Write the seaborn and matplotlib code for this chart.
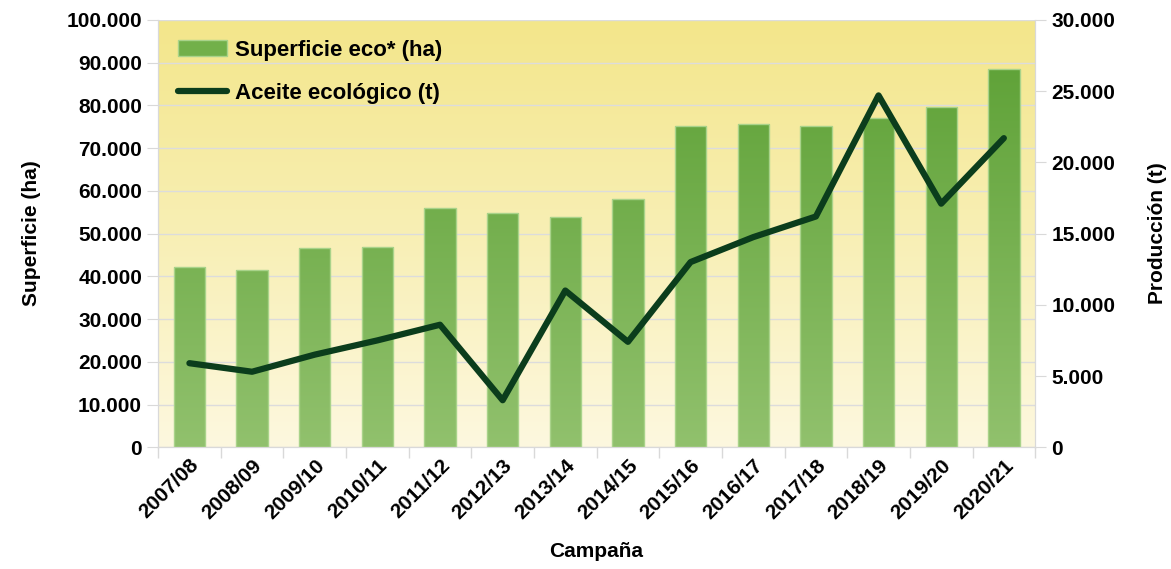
import numpy as np
import pandas as pd
import matplotlib
matplotlib.use('Agg')
import matplotlib.pyplot as plt
from matplotlib.colors import LinearSegmentedColormap
from matplotlib.lines import Line2D
from matplotlib.patches import Patch
import seaborn as sns

# Datos
campanas = ['2007/08', '2008/09', '2009/10', '2010/11', '2011/12', '2012/13', '2013/14',
            '2014/15', '2015/16', '2016/17', '2017/18', '2018/19', '2019/20', '2020/21']
superficie = [42200, 41500, 46600, 46800, 56000, 54800, 53900,
              58100, 75200, 75700, 75200, 77000, 79600, 88600]
aceite = [5900, 5300, 6500, 7500, 8600, 3300, 11000,
          7400, 13000, 14750, 16200, 24700, 17100, 21700]

df = pd.DataFrame({'Campaña': campanas, 'Superficie': superficie, 'Aceite': aceite})

sns.set_style('white')
plt.rcParams['font.family'] = ['Liberation Sans', 'DejaVu Sans']
plt.rcParams['font.weight'] = 'bold'
plt.rcParams['text.color'] = 'black'
plt.rcParams['axes.labelcolor'] = 'black'
plt.rcParams['xtick.color'] = 'black'
plt.rcParams['ytick.color'] = 'black'

FS = 15

fig, ax = plt.subplots(figsize=(11.71, 5.69), dpi=100)
fig.subplots_adjust(left=0.135, right=0.884, top=0.965, bottom=0.214)

sns.barplot(data=df, x='Campaña', y='Superficie', ax=ax, width=0.5, color='#72b04a', zorder=3)

# fondo degradado amarillo
fondo = LinearSegmentedColormap.from_list('fondo', ['#fdf8df', '#f3e68a'])
ax.imshow(np.linspace(0, 1, 256).reshape(-1, 1), cmap=fondo, origin='lower', aspect='auto',
          extent=[0, 1, 0, 1], transform=ax.transAxes, zorder=0)

# barras degradadas
verde = LinearSegmentedColormap.from_list('verde', ['#91c16d', '#5a9f32'])
for p in ax.patches:
    x0, w, h = p.get_x(), p.get_width(), p.get_height()
    im = ax.imshow(np.linspace(0, 1, 256).reshape(-1, 1), cmap=verde, origin='lower', aspect='auto',
                   extent=[x0, x0 + w, 0, 100000], zorder=2)
    im.set_clip_path(p)
    p.set_facecolor('none')
    p.set_edgecolor('#a9d38a')
    p.set_linewidth(1)

ax.set_xlim(-0.5, len(campanas) - 0.5)
ax.set_ylim(0, 100000)
ax.set_yticks(np.arange(0, 100001, 10000))
ax.yaxis.set_major_formatter(plt.FuncFormatter(lambda v, _: f'{int(v):,}'.replace(',', '.')))
ax.grid(axis='y', color='#dcdcdc', linewidth=1, zorder=1)
ax.set_axisbelow(True)

ax.set_xticks(np.arange(len(campanas)))
ax.set_xticklabels(campanas, rotation=45, ha='right', rotation_mode='anchor', fontsize=FS, fontweight='bold')
ax.set_xticks(np.arange(-0.5, len(campanas)), minor=True)
ax.tick_params(axis='x', which='major', length=0, pad=6)
ax.tick_params(axis='x', which='minor', length=8, color='#d9d9d9', width=1, bottom=True)
ax.tick_params(axis='y', length=8, color='#d9d9d9', labelsize=FS, left=True)
for lbl in ax.get_yticklabels():
    lbl.set_fontweight('bold')

ax.set_xlabel('Campaña', fontsize=FS, fontweight='bold', labelpad=14)
ax.set_ylabel('Superficie (ha)', fontsize=FS, fontweight='bold', labelpad=18)

for s in ax.spines.values():
    s.set_color('#d9d9d9')
ax.spines['top'].set_visible(False)

# eje derecho: producción
ax2 = ax.twinx()
sns.lineplot(x=np.arange(len(campanas)), y=aceite, ax=ax2, color='#0b3d1c', linewidth=4.5)
ax2.set_ylim(0, 30000)
ax2.set_yticks(np.arange(0, 30001, 5000))
ax2.yaxis.set_major_formatter(plt.FuncFormatter(lambda v, _: f'{int(v):,}'.replace(',', '.')))
ax2.tick_params(axis='y', length=8, color='#d9d9d9', labelsize=FS, right=True)
for lbl in ax2.get_yticklabels():
    lbl.set_fontweight('bold')
ax2.set_ylabel('Producción (t)', fontsize=FS, fontweight='bold', labelpad=24)
for s in ax2.spines.values():
    s.set_color('#d9d9d9')
ax2.spines['top'].set_visible(False)

handles = [Patch(facecolor='#72b04a', edgecolor='#a9d38a'),
           Line2D([], [], color='#0b3d1c', linewidth=4.5)]
ax2.legend(handles, ['Superficie eco* (ha)', 'Aceite ecológico (t)'], loc='upper left',
           frameon=False, prop={'size': FS + 1, 'weight': 'bold'}, handlelength=2.2,
           handletextpad=0.35, labelspacing=1.0, bbox_to_anchor=(0.0, 1.0))

fig.savefig('out.png', dpi=100)
